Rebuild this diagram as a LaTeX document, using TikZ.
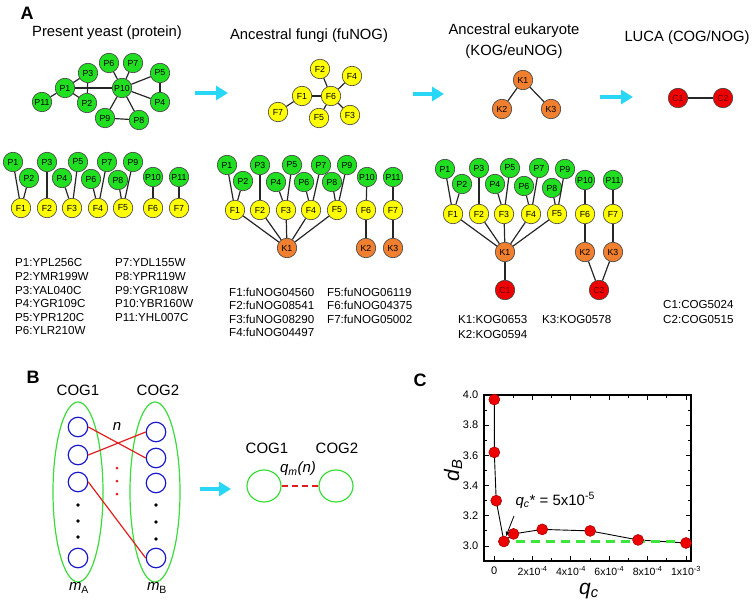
\documentclass[tikz,border=0pt]{standalone}
\usepackage{fontspec}
\setmainfont{Liberation Sans}
\usetikzlibrary{arrows.meta,shapes.geometric}
\definecolor{ngreen}{RGB}{32,222,32}
\definecolor{nyellow}{RGB}{255,255,0}
\definecolor{norange}{RGB}{240,128,48}
\definecolor{nred}{RGB}{238,0,0}
\definecolor{ncyan}{RGB}{40,215,245}
\definecolor{eblue}{RGB}{25,25,200}
\definecolor{ered}{RGB}{225,30,30}
\definecolor{dgreen}{RGB}{60,220,60}
\definecolor{lgreen}{RGB}{60,230,60}
\begin{document}
\begin{tikzpicture}[x=1pt,y=-1pt,
  nd/.style={circle,draw=black!75,line width=0.6pt,minimum size=19.5pt,inner sep=0pt,font=\fontsize{8.8}{8.8}\selectfont},
  pn/.style={nd,fill=ngreen},
  fn/.style={nd,fill=nyellow},
  kn/.style={nd,fill=norange},
  cn/.style={nd,fill=nred,text=red!40!black},
  edge/.style={line width=1.2pt,black!85},
  carrow/.style={ncyan,line width=4pt,-{Triangle[length=12pt,width=14pt]}},
  title/.style={font=\fontsize{14.8}{21}\selectfont},
  leg/.style={anchor=west,inner sep=0pt,font=\fontsize{11.6}{13}\selectfont},
  plab/.style={font=\fontsize{18}{18}\selectfont\bfseries},
  cog/.style={ellipse,draw=dgreen,line width=1.2pt,inner sep=0pt},
  bc/.style={circle,draw=eblue,line width=1.2pt,minimum size=19.5pt,inner sep=0pt},
  rline/.style={ered,line width=1.2pt},
  bdot/.style={circle,fill=black,minimum size=3.6pt,inner sep=0pt},
  rdot/.style={circle,fill=ered,minimum size=3pt,inner sep=0pt},
  bfont/.style={font=\fontsize{15}{15}\selectfont},
  dpt/.style={circle,fill=nred,draw=red!60!black,line width=0.5pt,minimum size=11pt,inner sep=0pt},
  tick/.style={line width=1pt},
]
\useasboundingbox (0,0) rectangle (753,607);

%% ---------------- Panel A ----------------
\node[plab] (labA) at (27,13) {A};
\node[title] (t1) at (107,33) {Present yeast (protein)};
\node[title] (t2) at (309,36) {Ancestral fungi (fuNOG)};
\node[title,align=center] (t3) at (514,41) {Ancestral eukaryote\\(KOG/euNOG)};
\node[title] (t4) at (687,38) {LUCA (COG/NOG)};

% yeast network
\foreach \n/\x/\y in {1/65/88,2/87/103,3/88/73,4/160/102,5/160/73,6/109/63,7/133/63,8/139/120,9/105/118,10/122/88,11/42/102}
  \node[pn] (aP\n) at (\x,\y) {P\n};
\foreach \a/\b in {1/11,1/3,1/2,1/10,3/2,10/6,10/7,10/5,10/4,10/9,10/8,9/8,5/4}
  \draw[edge] (aP\a) -- (aP\b);

% fungi network
\foreach \n/\x/\y in {1/302/96,2/320/69,3/350/115,4/352/76,5/319/118,6/331/96,7/278/112}
  \node[fn] (aF\n) at (\x,\y) {F\n};
\foreach \a/\b in {6/2,6/4,6/1,6/5,6/3,1/7}
  \draw[edge] (aF\a) -- (aF\b);

% eukaryote network
\node[kn] (aK1) at (523,80) {K1};
\node[kn] (aK2) at (502,109) {K2};
\node[kn] (aK3) at (551,109) {K3};
\draw[edge] (aK1) -- (aK2);
\draw[edge] (aK1) -- (aK3);

% LUCA
\node[cn] (aC1) at (678,98) {C1};
\node[cn] (aC2) at (723,98) {C2};
\draw[edge] (aC1) -- (aC2);

% arrows
\coordinate (ar1s) at (195,93); \coordinate (ar1e) at (228,93);
\coordinate (ar2s) at (413,94); \coordinate (ar2e) at (444,94);
\coordinate (ar3s) at (600,97); \coordinate (ar3e) at (633,97);
\draw[carrow] (ar1s) -- (ar1e);
\draw[carrow] (ar2s) -- (ar2e);
\draw[carrow] (ar3s) -- (ar3e);

% tree column 1
\foreach \n/\x/\y in {1/13/162,2/29/178,3/47/162,4/62/178,5/78/162,6/91/179,7/107/162,8/118/180,9/133/162,10/153/177,11/179/177}
  \node[pn] (bP\n) at (\x,\y) {P\n};
\foreach \n/\x in {1/21,2/47,3/72,4/98,5/123,6/153,7/179}
  \node[fn] (bF\n) at (\x,208) {F\n};
\foreach \p/\f in {1/1,2/1,3/2,4/3,5/3,6/4,7/4,8/5,9/5,10/6,11/7}
  \draw[edge] (bP\p) -- (bF\f);

% tree column 2
\foreach \n/\x/\y in {1/227/165,2/243/181,3/260/165,4/276/182,5/292/165,6/304/182,7/321/165,8/332/182,9/347/165,10/367/177,11/393/177}
  \node[pn] (cP\n) at (\x,\y) {P\n};
\foreach \n/\x in {1/235,2/260,3/286,4/311,5/337,6/366,7/393}
  \node[fn] (cF\n) at (\x,210) {F\n};
\node[kn] (cK1) at (287,248) {K1};
\node[kn] (cK2) at (366,248) {K2};
\node[kn] (cK3) at (393,248) {K3};
\foreach \p/\f in {1/1,2/1,3/2,4/3,5/3,6/4,7/4,8/5,9/5,10/6,11/7}
  \draw[edge] (cP\p) -- (cF\f);
\foreach \f in {1,...,5}
  \draw[edge] (cF\f) -- (cK1);
\draw[edge] (cF6) -- (cK2);
\draw[edge] (cF7) -- (cK3);

% tree column 3
\foreach \n/\x/\y in {1/445/169,2/462/184,3/479/168,4/495/184,5/510/168,6/524/186,7/539/168,8/552/188,9/565/169,10/585/180,11/613/180}
  \node[pn] (dP\n) at (\x,\y) {P\n};
\foreach \n/\x in {1/453,2/479,3/504,4/531,5/557,6/585,7/613}
  \node[fn] (dF\n) at (\x,214) {F\n};
\node[kn] (dK1) at (505,252) {K1};
\node[kn] (dK2) at (585,252) {K2};
\node[kn] (dK3) at (613,252) {K3};
\node[cn] (dC1) at (505,290) {C1};
\node[cn] (dC2) at (599,290) {C2};
\foreach \p/\f in {1/1,2/1,3/2,4/3,5/3,6/4,7/4,8/5,9/5,10/6,11/7}
  \draw[edge] (dP\p) -- (dF\f);
\foreach \f in {1,...,5}
  \draw[edge] (dF\f) -- (dK1);
\draw[edge] (dF6) -- (dK2);
\draw[edge] (dF7) -- (dK3);
\draw[edge] (dK1) -- (dC1);
\draw[edge] (dK2) -- (dC2);
\draw[edge] (dK3) -- (dC2);

% legends
\foreach \t [count=\i] in {P1:YPL256C,P2:YMR199W,P3:YAL040C,P4:YGR109C,P5:YPR120C,P6:YLR210W}
  \node[leg] (lgp\i) at (15,{263+13.6*(\i-1)}) {\t};
\foreach \t [count=\i] in {P7:YDL155W,P8:YPR119W,P9:YGR108W,P10:YBR160W,P11:YHL007C}
  \node[leg] (lgq\i) at (115,{263+13.6*(\i-1)}) {\t};
\foreach \t [count=\i] in {F1:fuNOG04560,F2:fuNOG08541,F3:fuNOG08290,F4:fuNOG04497}
  \node[leg] (lgf\i) at (229,{292+13.5*(\i-1)}) {\t};
\foreach \t [count=\i] in {F5:fuNOG06119,F6:fuNOG04375,F7:fuNOG05002}
  \node[leg] (lgg\i) at (327,{292+13.5*(\i-1)}) {\t};
\node[leg] (lgk1) at (458,320) {K1:KOG0653};
\node[leg] (lgk2) at (458,335) {K2:KOG0594};
\node[leg] (lgk3) at (542,320) {K3:KOG0578};
\node[leg] (lgc1) at (663,305) {C1:COG5024};
\node[leg] (lgc2) at (663,320) {C2:COG0515};

%% ---------------- Panel B ----------------
\node[plab] (labB) at (33,377) {B};
\node[bfont] (cg1) at (78,390) {COG1};
\node[bfont] (cg2) at (158,390) {COG2};
\node[cog,minimum width=50pt,minimum height=180pt] (ell1) at (78,492) {};
\node[cog,minimum width=50pt,minimum height=180pt] (ell2) at (155,492) {};
\foreach \i/\y in {1/427,2/455,3/482,4/558}
  \node[bc] (la\i) at (78,\y) {};
\foreach \i/\y in {1/432,2/458,3/483,4/558}
  \node[bc] (rb\i) at (156,\y) {};
\foreach \i/\y in {1/505,2/521,3/537}
  \node[bdot] (ldt\i) at (78,\y) {};
\foreach \i/\y in {1/505,2/522,3/539}
  \node[bdot] (rdt\i) at (156,\y) {};
\foreach \i/\y in {1/468,2/481,3/494}
  \node[rdot] (mdt\i) at (117,\y) {};
\draw[rline] (la1.east) -- (rb2.west);
\draw[rline] (la2.east) -- (rb1.west);
\draw[rline] (la3.east) -- (rb4.west);
\node[bfont,font=\fontsize{15}{15}\selectfont\itshape] (nlab) at (117,426) {n};
\node[bfont] (mA) at (79,588) {\textit{m}\textsubscript{A}};
\node[bfont] (mB) at (157,588) {\textit{m}\textsubscript{B}};

\coordinate (ar4s) at (200,489); \coordinate (ar4e) at (231,489);
\draw[carrow] (ar4s) -- (ar4e);

\node[bfont] (cg3) at (267,448) {COG1};
\node[bfont] (cg4) at (337,448) {COG2};
\node[cog,minimum width=34pt,minimum height=32pt] (g1) at (264,486) {};
\node[cog,minimum width=34pt,minimum height=32pt] (g2) at (336,486) {};
\draw[ered,line width=1.2pt,dash pattern=on 6pt off 4pt] (g1) -- (g2);
\node[bfont,font=\fontsize{15}{15}\selectfont\itshape] (qm) at (298,469) {q\textsubscript{m}(n)};

%% ---------------- Panel C ----------------
\node[plab] (labC) at (420,380) {C};
\begin{scope}[shift={(494.3,546)},x=191.7pt,y=151pt]
  \draw[line width=1.8pt] (-0.055,-0.1) rectangle (1.025,1.0);
  \foreach \i in {0,...,10}{
    \pgfmathsetmacro{\len}{ifthenelse(mod(\i,2)==0,5,3)}
    \draw[tick] ({\i/10},-0.1) -- ++(0pt,\len pt);
    \draw[tick] ({\i/10},1.0) -- ++(0pt,-\len pt);
    \draw[tick] (-0.055,{\i/10}) -- ++(\len pt,0pt);
    \draw[tick] (1.025,{\i/10}) -- ++(-\len pt,0pt);
  }
  \foreach \j/\t in {0/3.0,2/3.2,4/3.4,6/3.6,8/3.8,10/4.0}
    \node[anchor=east,font=\fontsize{11}{11}\selectfont,xshift=-2pt] (yl\j) at (-0.055,{\j/10}) {\t};
  \node[anchor=north,font=\fontsize{11}{11}\selectfont,yshift=-2pt] (xl0) at (0,-0.1) {0};
  \foreach \j/\e in {2/-4,4/-4,6/-4,8/-4}
    \node[anchor=north,font=\fontsize{10.5}{11}\selectfont,yshift=-2pt] (xl\j) at ({\j/10},-0.1) {\j x10\textsuperscript{\e}};
  \node[anchor=north,font=\fontsize{10.5}{11}\selectfont,yshift=-2pt] (xl10) at (1,-0.1) {1x10\textsuperscript{-3}};
  \foreach \i/\x/\y in {1/0/0.97,2/0/0.62,3/0.01/0.30,4/0.05/0.03,5/0.1/0.08,6/0.25/0.11,7/0.5/0.10,8/0.75/0.04,9/1.0/0.02}
    \coordinate (c\i) at (\x,\y);
  \draw[line width=0.9pt] (c1) -- (c2) -- (c3) -- (c4) -- (c5) -- (c6) -- (c7) -- (c8) -- (c9);
  \draw[lgreen,line width=2.5pt,dash pattern=on 9pt off 6pt] (0.035,0.03) -- (1.02,0.03);
  \foreach \i in {1,...,9}
    \node[dpt] (pt\i) at (c\i) {};
\end{scope}
\node[font=\fontsize{15}{15}\selectfont,anchor=base west] (qlab) at (512,505) {\textit{q}\textsubscript{\textit{c}}* = 5x10\textsuperscript{-5}};
\coordinate (qa) at (514,516);
\draw[line width=0.8pt,-{Stealth[length=5pt,width=4pt]}] (qa) -- (pt4);
\node[rotate=90,font=\fontsize{21}{21}\selectfont] (dB) at (453,470) {\textit{d}\textsubscript{\textit{B}}};
\node[font=\fontsize{21}{21}\selectfont] (qc) at (589,591) {\textit{q}\textsubscript{\textit{c}}};
\end{tikzpicture}
\end{document}
